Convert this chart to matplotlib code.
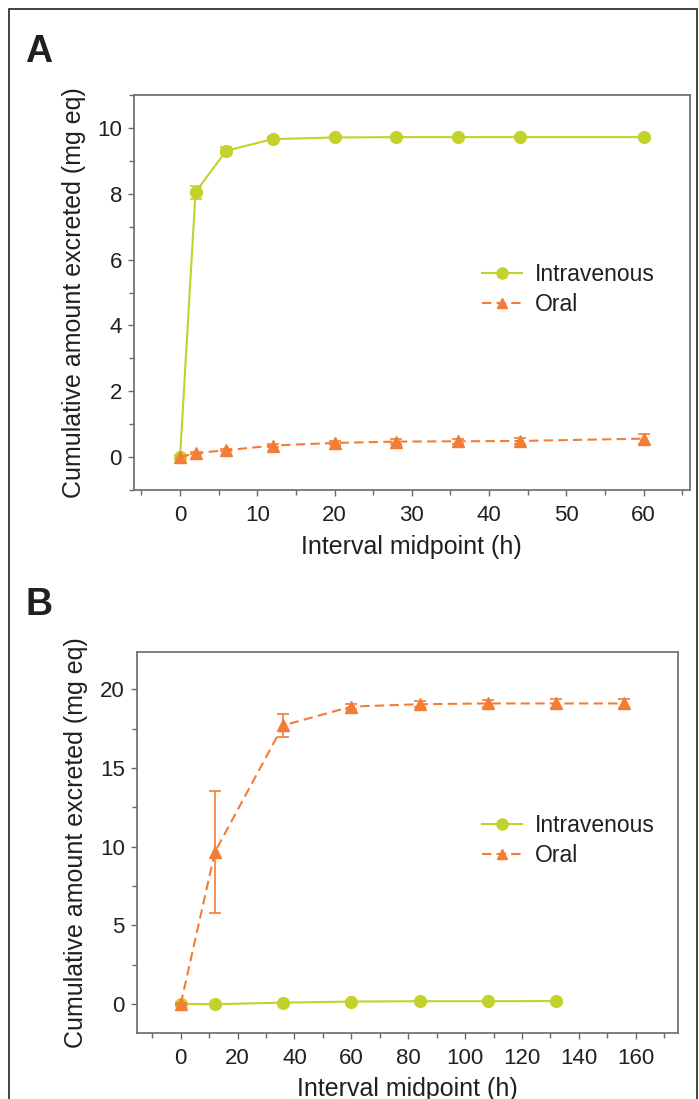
import matplotlib
matplotlib.use("Agg")
import matplotlib.pyplot as plt
from matplotlib.patches import Rectangle
from matplotlib.lines import Line2D
from matplotlib.ticker import MultipleLocator

plt.rcParams["font.family"] = ["Liberation Sans", "DejaVu Sans"]

# -------------------------------
# Data
# -------------------------------
# Panel A
a_iv_x = [0, 2, 6, 12, 20, 28, 36, 44, 60]
a_iv_y = [0.0, 8.05, 9.31, 9.66, 9.71, 9.72, 9.72, 9.72, 9.72]
a_iv_err = [0.02, 0.2, 0.1, 0.05, 0.04, 0.04, 0.04, 0.04, 0.05]

a_or_x = [0, 2, 6, 12, 20, 28, 36, 44, 60]
a_or_y = [0.0, 0.12, 0.21, 0.35, 0.43, 0.47, 0.48, 0.49, 0.56]
a_or_err = [0.02, 0.03, 0.04, 0.05, 0.06, 0.07, 0.07, 0.08, 0.15]

# Panel B
b_iv_x = [0, 12, 36, 60, 84, 108, 132]
b_iv_y = [0.0, -0.02, 0.08, 0.15, 0.17, 0.17, 0.18]

b_or_x = [0, 12, 36, 60, 84, 108, 132, 156]
b_or_y = [0.0, 9.65, 17.7, 18.9, 19.05, 19.1, 19.1, 19.1]
b_or_err = [0.05, 3.9, 0.75, 0.15, 0.2, 0.2, 0.3, 0.3]

labels = ["Intravenous", "Oral"]
xlabel = "Interval midpoint (h)"
ylabel = "Cumulative amount excreted (mg eq)"

IV_COLOR = "#c3d22a"
OR_COLOR = "#f47d36"
TEXT = "#231f20"
SPINE = "#6a6a6a"
DASH = (4.5, 2.5)

fig = plt.figure(figsize=(6.99, 10.99), dpi=100)

# outer frame (bottom edge cut off)
fig.patches.append(Rectangle((9 / 699, -0.02), 688 / 699, 1.02 - 9 / 1099,
                             transform=fig.transFigure, fill=False,
                             edgecolor="#222222", linewidth=1.2))


def style_axes(ax, xmaj, xmin, ymaj, ymin):
    for s in ax.spines.values():
        s.set_color(SPINE)
        s.set_linewidth(1.2)
    ax.xaxis.set_major_locator(MultipleLocator(xmaj))
    ax.xaxis.set_minor_locator(MultipleLocator(xmin))
    ax.yaxis.set_major_locator(MultipleLocator(ymaj))
    ax.yaxis.set_minor_locator(MultipleLocator(ymin))
    ax.tick_params(which="major", direction="out", length=4.5, width=1.0,
                   color=SPINE, labelsize=16, labelcolor=TEXT, pad=4)
    ax.tick_params(which="minor", direction="out", length=3.5, width=1.0,
                   color=SPINE)
    ax.tick_params(axis="x", which="major", pad=6)


def add_legend(ax, anchor):
    handles = [
        Line2D([], [], color=IV_COLOR, marker="o", markersize=8, linewidth=1.5),
        Line2D([], [], color=OR_COLOR, marker="^", markersize=7, linewidth=1.5,
               dashes=DASH),
    ]
    ax.legend(handles, labels, loc="upper left", bbox_to_anchor=anchor,
              frameon=False, fontsize=16.5, handlelength=1.75,
              handletextpad=0.55, labelspacing=0.3, borderpad=0,
              borderaxespad=0, numpoints=1, labelcolor=TEXT)


# -------------------------------
# Panel A
# -------------------------------
axA = fig.add_axes([133.7 / 699, 1 - 490 / 1099, 556.3 / 699, 395 / 1099])
axA.errorbar(a_iv_x, a_iv_y, yerr=a_iv_err, color=IV_COLOR, marker="o",
             markersize=8.5, linewidth=1.5, capsize=4.5, elinewidth=1.2,
             capthick=1.2, zorder=3)
axA.errorbar(a_or_x, a_or_y, yerr=a_or_err, color=OR_COLOR, marker="^",
             markersize=8.5, linewidth=1.5, dashes=DASH, capsize=4.5,
             elinewidth=1.2, capthick=1.2, zorder=3)
axA.set_xlim(-6, 66)
axA.set_ylim(-1, 11)
style_axes(axA, 10, 5, 2, 1)
axA.set_xlabel(xlabel, fontsize=18, color=TEXT)
axA.set_ylabel(ylabel, fontsize=18, color=TEXT)
axA.xaxis.set_label_coords(0.5, -0.115)
axA.yaxis.set_label_coords(-0.085, 0.5)
add_legend(axA, (0.626, 0.575))

# -------------------------------
# Panel B
# -------------------------------
axB = fig.add_axes([136.7 / 699, 1 - 1033 / 1099, 541.6 / 699, 381 / 1099])
axB.plot(b_iv_x, b_iv_y, color=IV_COLOR, marker="o", markersize=8.5,
         linewidth=1.5, zorder=3)
axB.errorbar(b_or_x, b_or_y, yerr=b_or_err, color=OR_COLOR, marker="^",
             markersize=8.5, linewidth=1.5, dashes=DASH, capsize=4.5,
             elinewidth=1.2, capthick=1.2, zorder=3)
axB.set_xlim(-15.5, 175)
axB.set_ylim(-1.85, 22.37)
style_axes(axB, 20, 10, 5, 2.5)
axB.set_xlabel(xlabel, fontsize=18, color=TEXT)
axB.set_ylabel(ylabel, fontsize=18, color=TEXT)
axB.xaxis.set_label_coords(0.5, -0.115)
axB.yaxis.set_label_coords(-0.09, 0.5)
add_legend(axB, (0.638, 0.575))

# panel letters
fig.text(25 / 699, 1 - 62 / 1099, "A", fontsize=27, fontweight="bold",
         color=TEXT, ha="left", va="baseline")
fig.text(25 / 699, 1 - 615 / 1099, "B", fontsize=27, fontweight="bold",
         color=TEXT, ha="left", va="baseline")

fig.savefig("out.png", dpi=100)
